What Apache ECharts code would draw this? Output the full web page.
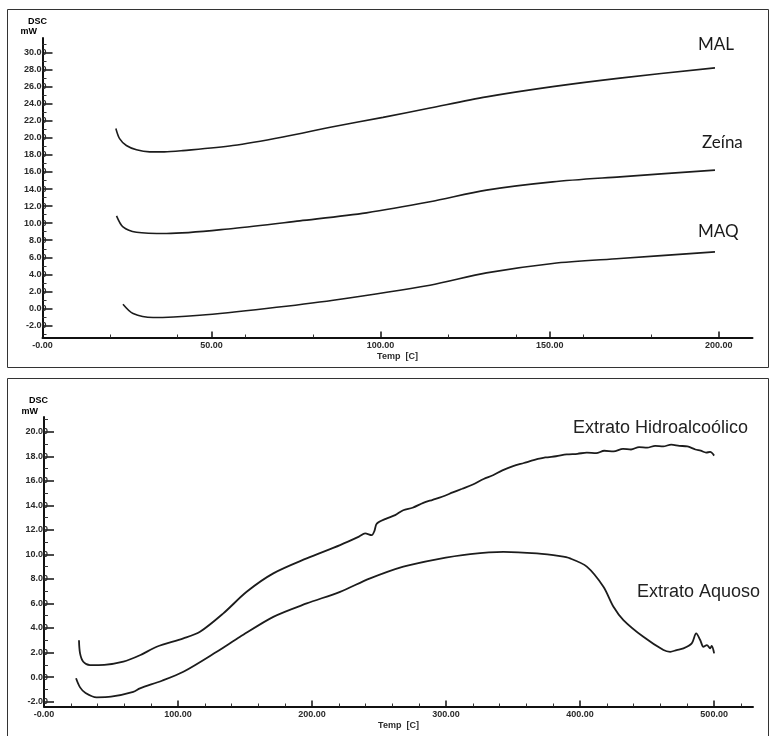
<!DOCTYPE html>
<html>
<head>
<meta charset="utf-8">
<script src="https://cdn.jsdelivr.net/npm/echarts@6/dist/echarts.min.js"></script>
<style>
  html, body { margin: 0; padding: 0; background: #fff; }
  #chart { width: 770px; height: 736px; }
</style>
</head>
<body>
<div id="chart"></div>
<script>
// DSC curves, temperature (°C) vs heat flow (mW)
const malCurve = [[21.7,21.1],[22.8,19.9],[24.8,19.1],[27.8,18.6],[31.7,18.36],[36,18.35],[41.5,18.5],[56.3,19.1],[71.1,20.1],[85.9,21.3],[100.7,22.4],[114.6,23.5],[131.3,24.8],[150.9,26.0],[170.8,27.0],[198.9,28.2]];
const zeinaCurve = [[21.9,10.86],[23.8,9.57],[27.8,8.94],[36.7,8.79],[56.4,9.38],[76.1,10.27],[95.8,11.21],[114.6,12.5],[131.3,13.87],[150.9,14.84],[170.8,15.43],[198.9,16.21]];
const maqCurve = [[23.8,0.5],[26.8,-0.59],[32.7,-1.06],[46.5,-0.79],[66.2,0.0],[86.0,0.97],[114.6,2.73],[131.3,4.17],[150.9,5.28],[170.8,5.86],[198.9,6.64]];

const hidroCurve = [[26.1,3.0],[26.9,1.93],[29.3,1.25],[34.3,0.98],[45,1.0],[59.2,1.25],[72,1.8],[84.1,2.47],[104,3.15],[116.4,3.69],[133.8,5.19],[151.2,6.95],[171.1,8.45],[196,9.67],[220.9,10.76],[235,11.45],[239.6,11.71],[244.5,11.57],[246.5,11.9],[248.3,12.5],[255,12.9],[262,13.2],[268,13.6],[275,13.8],[283,14.2],[290,14.45],[297,14.7],[305,15.05],[312,15.35],[320,15.7],[328,16.15],[335,16.45],[342,16.85],[350,17.2],[358,17.45],[366,17.7],[374,17.9],[382,18.0],[390,18.15],[398,18.2],[405,18.3],[412,18.25],[418,18.45],[425,18.4],[432,18.6],[438,18.55],[444,18.75],[450,18.7],[456,18.85],[462,18.8],[468,18.95],[474,18.85],[480,18.8],[486,18.55],[490,18.45],[494,18.3],[497,18.35],[500,18.05]];
const aquosoCurve = [[23.9,-0.1],[26.9,-0.84],[31,-1.3],[39.3,-1.65],[50,-1.6],[66.6,-1.2],[71.6,-0.92],[88,-0.3],[104,0.43],[128.9,2.06],[146.3,3.28],[171.1,4.91],[196,6.0],[220.9,6.95],[243.3,8.04],[268.1,9.0],[293,9.6],[318,10.02],[342.8,10.21],[367.7,10.08],[385,9.85],[392.5,9.67],[405,9.0],[417.4,7.36],[424.9,5.73],[432.3,4.65],[447.2,3.28],[462.2,2.2],[467.2,2.06],[472,2.2],[477.1,2.34],[483.3,2.75],[486.6,3.56],[489.6,3.02],[492,2.47],[494.6,2.61],[497,2.34],[498.2,2.53],[500,1.93]];

// axis ticks
const topXTicks = [0, 50, 100, 150, 200];
const topXMinor = [20, 40, 60, 80, 120, 140, 160, 180];
const topYTicks = [-2, 0, 2, 4, 6, 8, 10, 12, 14, 16, 18, 20, 22, 24, 26, 28, 30];
const topYMinor = [-3, -1, 1, 3, 5, 7, 9, 11, 13, 15, 17, 19, 21, 23, 25, 27, 29, 31];
const botXTicks = [0, 100, 200, 300, 400, 500];
const botXMinor = [20, 40, 60, 80, 120, 140, 160, 180, 220, 240, 260, 280, 320, 340, 360, 380, 420, 440, 460, 480, 520];
const botYTicks = [-2, 0, 2, 4, 6, 8, 10, 12, 14, 16, 18, 20];
const botYMinor = [-1, 1, 3, 5, 7, 9, 11, 13, 15, 17, 19, 21];

const topLabels = ['MAL', 'Zeína', 'MAQ'];
const botLabels = ['Extrato Hidroalcoólico', 'Extrato Aquoso'];

const AX = '#111';
const LBL = { fontFamily: 'Liberation Sans', fontWeight: 'bold', fontSize: 9, color: '#2a2a2a' };

const topBox = { left: 42.5, top: 38, width: 710, height: 299.5 };
const botBox = { left: 44, top: 417, width: 709, height: 289.5 };
// grids 0/1 carry the curves; grids 2/3 sit on top of them and only draw minor ticks
const grids = [topBox, botBox, topBox, botBox];

function xMain(gridIndex, max, ticks) {
  return {
    type: 'value', gridIndex, min: 0, max,
    name: 'Temp  [C]', nameLocation: 'middle', nameGap: 15,
    nameTextStyle: Object.assign({}, LBL),
    axisLine: { show: true, onZero: false, lineStyle: { color: AX, width: 2 } },
    axisTick: { show: true, inside: true, length: 6, customValues: ticks, lineStyle: { color: AX, width: 1.5 } },
    axisLabel: Object.assign({ customValues: ticks, margin: 4, formatter: v => v === 0 ? '-0.00' : v.toFixed(2) }, LBL),
    splitLine: { show: false }
  };
}
function xMinor(gridIndex, max, ticks) {
  return {
    type: 'value', gridIndex, min: 0, max, position: 'bottom',
    axisLine: { show: false, onZero: false },
    axisTick: { show: true, inside: true, length: 3, customValues: ticks, lineStyle: { color: '#333', width: 1 } },
    axisLabel: { show: false }, splitLine: { show: false }
  };
}
function yMain(gridIndex, min, max, ticks) {
  return {
    type: 'value', gridIndex, min, max,
    axisLine: { show: true, onZero: false, lineStyle: { color: AX, width: 2 } },
    axisTick: { show: true, inside: true, length: 10, customValues: ticks, lineStyle: { color: AX, width: 1.5 } },
    axisLabel: Object.assign({ customValues: ticks, margin: -4, formatter: v => v.toFixed(2) }, LBL),
    splitLine: { show: false }
  };
}
function yMinor(gridIndex, min, max, ticks) {
  return {
    type: 'value', gridIndex, min, max, position: 'left',
    axisLine: { show: false, onZero: false },
    axisTick: { show: true, inside: true, length: 4, customValues: ticks, lineStyle: { color: '#333', width: 1 } },
    axisLabel: { show: false }, splitLine: { show: false }
  };
}

function curve(data, xi, yi, width) {
  return {
    type: 'line', data, xAxisIndex: xi, yAxisIndex: yi,
    showSymbol: false, smooth: 0.3, silent: true,
    lineStyle: { color: '#1c1c1c', width }
  };
}

function txt(x, y, text, style) {
  return { type: 'text', x, y, style: Object.assign({ text }, style), silent: true };
}

const chart = echarts.init(document.getElementById('chart'), null, { renderer: 'canvas' });
chart.setOption({
  animation: false,
  backgroundColor: '#fff',
  grid: grids,
  xAxis: [
    xMain(0, 210, topXTicks),
    xMain(1, 529, botXTicks),
    xMinor(2, 210, topXMinor),
    xMinor(3, 529, botXMinor)
  ],
  yAxis: [
    yMain(0, -3.4, 31.7, topYTicks),
    yMain(1, -2.4, 21.2, botYTicks),
    yMinor(2, -3.4, 31.7, topYMinor),
    yMinor(3, -2.4, 21.2, botYMinor)
  ],
  series: [
    curve(malCurve, 0, 0, 1.6),
    curve(zeinaCurve, 0, 0, 1.6),
    curve(maqCurve, 0, 0, 1.6),
    curve(hidroCurve, 1, 1, 1.8),
    curve(aquosoCurve, 1, 1, 1.8)
  ],
  graphic: [
    { type: 'rect', shape: { x: 7.5, y: 9.5, width: 761, height: 358 }, style: { fill: 'none', stroke: '#333', lineWidth: 1 }, silent: true },
    { type: 'rect', shape: { x: 7.5, y: 378.5, width: 761, height: 360 }, style: { fill: 'none', stroke: '#333', lineWidth: 1 }, silent: true },
    txt(47, 22, 'DSC', Object.assign({}, LBL, { align: 'right', verticalAlign: 'middle' })),
    txt(37, 32, 'mW', Object.assign({}, LBL, { align: 'right', verticalAlign: 'middle' })),
    txt(48, 401, 'DSC', Object.assign({}, LBL, { align: 'right', verticalAlign: 'middle' })),
    txt(38, 412, 'mW', Object.assign({}, LBL, { align: 'right', verticalAlign: 'middle' })),
    txt(698, 45, topLabels[0], { font: '17px Lato', fill: '#1a1a1a', verticalAlign: 'middle' }),
    txt(702, 143, topLabels[1], { font: '17px Lato', fill: '#1a1a1a', verticalAlign: 'middle' }),
    txt(698, 232, topLabels[2], { font: '17px Lato', fill: '#1a1a1a', verticalAlign: 'middle' }),
    txt(573, 428, botLabels[0], { font: '18px "Liberation Sans"', fill: '#222', verticalAlign: 'middle' }),
    txt(637, 592, botLabels[1], { font: '18px "Liberation Sans"', fill: '#222', verticalAlign: 'middle' })
  ]
});
</script>
</body>
</html>
